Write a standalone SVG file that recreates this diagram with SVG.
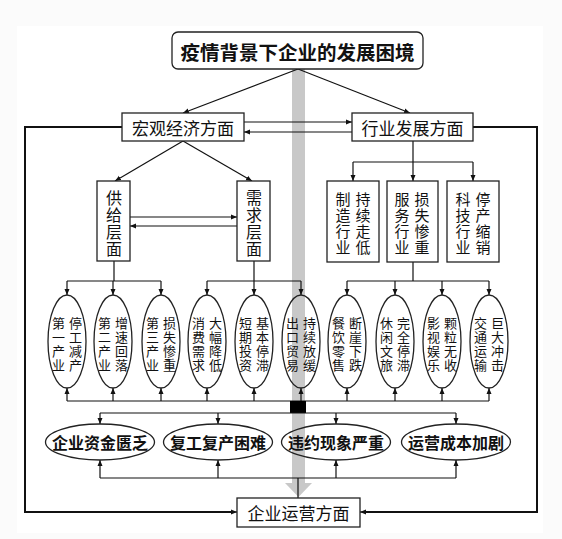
<svg xmlns="http://www.w3.org/2000/svg" width="562" height="539" viewBox="0 0 562 539">
<defs>
<marker id="ah" viewBox="0 0 6 6" refX="6" refY="3" markerWidth="6" markerHeight="6" markerUnits="userSpaceOnUse" orient="auto">
<path d="M0,0.5 L6,3 L0,5.5 Z" fill="#111"/>
</marker>
<style>
text{font-family:"Noto Sans CJK SC","Noto Sans",sans-serif;fill:#111;text-anchor:middle;dominant-baseline:central}
.box{fill:#fff;stroke:#222;stroke-width:1.3}
.ell{fill:none;stroke:#222;stroke-width:1.3}
.ln{fill:none;stroke:#111;stroke-width:1.2}
.ar{fill:none;stroke:#111;stroke-width:1.2;marker-end:url(#ah)}
.fr{fill:none;stroke:#111;stroke-width:2}
.t17{font-size:17px}
.t16{font-size:16px}
.t15{font-size:15px}
.t13{font-size:13px}
.b{font-weight:bold}
</style>
</defs>
<rect x="0" y="0" width="562" height="539" fill="#fbfbfb"/>
<rect x="17" y="26" width="526" height="507" fill="#fff"/>
<g id="gray-arrow">
<rect x="292" y="69" width="13" height="414" fill="#c8c8c8"/>
<polygon points="285,483 312,483 298.5,497" fill="#c8c8c8"/>
</g>
<g id="connectors">
<path class="ar" d="M298,69 L183,113"/>
<path class="ar" d="M298,69 L410,113"/>
<path class="ar" d="M244,122 L352,122"/>
<path class="ar" d="M352,132 L244,132"/>
<path class="ar" d="M183,141 L115,181"/>
<path class="ar" d="M183,141 L252,181"/>
<path class="ar" d="M130,217 L237,217"/>
<path class="ar" d="M237,226 L130,226"/>
<path class="ln" d="M413,141 V162 M353,162 H473"/>
<path class="ar" d="M353,162 V181"/>
<path class="ar" d="M413,162 V181"/>
<path class="ar" d="M473,162 V181"/>
<path class="ln" d="M114,261 V281 M67,281 H161 M254,261 V281 M207,281 H301 M413,262 V281 M347,281 H489"/>
<path class="ar" d="M67,281 V295"/><path class="ar" d="M113,281 V295"/><path class="ar" d="M161,281 V295"/>
<path class="ar" d="M207,281 V295"/><path class="ar" d="M254,281 V295"/><path class="ar" d="M301,281 V295"/>
<path class="ar" d="M347,281 V295"/><path class="ar" d="M395,281 V295"/><path class="ar" d="M442,281 V295"/><path class="ar" d="M489,281 V295"/>
<path class="ln" d="M67,401 H489"/>
<path class="ar" d="M67,401 V388"/><path class="ar" d="M113,401 V388"/><path class="ar" d="M161,401 V388"/>
<path class="ar" d="M207,401 V388"/><path class="ar" d="M254,401 V388"/><path class="ar" d="M301,401 V388"/>
<path class="ar" d="M347,401 V388"/><path class="ar" d="M395,401 V388"/><path class="ar" d="M442,401 V388"/><path class="ar" d="M489,401 V388"/>
<rect x="290" y="401" width="16" height="12" fill="#000"/>
<path class="ln" d="M100,413 H456"/>
<path class="ar" d="M100,413 V424"/><path class="ar" d="M218,413 V424"/><path class="ar" d="M336,413 V424"/><path class="ar" d="M456,413 V424"/>
<path class="ln" d="M100,478 H456 M298,478 V498"/>
<path class="ar" d="M100,478 V460"/><path class="ar" d="M218,478 V460"/><path class="ar" d="M336,478 V460"/><path class="ar" d="M456,478 V460"/>
<path class="fr" d="M122,127 H25 V512 H231"/>
<path class="ar" d="M229,512 H237"/>
<path class="fr" d="M473,127 H537 V512 H366"/>
<path class="ar" d="M368,512 H360"/>
</g>
<g id="title">
<rect class="box" x="172" y="32" width="251" height="37" rx="6"/>
<text class="b" x="297.5" y="51" font-size="19.5">疫情背景下企业的发展困境</text>
</g>
<g id="macro">
<rect class="box" x="122" y="113" width="122" height="28"/>
<text class="t17" x="183" y="127">宏观经济方面</text>
</g>
<g id="industry">
<rect class="box" x="352" y="113" width="121" height="28"/>
<text class="t17" x="412.5" y="127">行业发展方面</text>
</g>
<g id="supply">
<rect class="box" x="97" y="181" width="33" height="80"/>
<text class="t16"><tspan x="114" y="197">供</tspan><tspan x="114" y="214">给</tspan><tspan x="114" y="231">层</tspan><tspan x="114" y="248">面</tspan></text>
</g>
<g id="demand">
<rect class="box" x="237" y="181" width="33" height="80"/>
<text class="t16"><tspan x="254" y="197">需</tspan><tspan x="254" y="214">求</tspan><tspan x="254" y="231">层</tspan><tspan x="254" y="248">面</tspan></text>
</g>
<g id="manufacturing">
<rect class="box" x="327" y="181" width="52" height="81"/>
<text class="t15"><tspan x="343" y="198">制</tspan><tspan x="343" y="214">造</tspan><tspan x="343" y="230">行</tspan><tspan x="343" y="246">业</tspan></text>
<text class="t15"><tspan x="363" y="198">持</tspan><tspan x="363" y="214">续</tspan><tspan x="363" y="230">走</tspan><tspan x="363" y="246">低</tspan></text>
</g>
<g id="service">
<rect class="box" x="387" y="181" width="51" height="81"/>
<text class="t15"><tspan x="402" y="198">服</tspan><tspan x="402" y="214">务</tspan><tspan x="402" y="230">行</tspan><tspan x="402" y="246">业</tspan></text>
<text class="t15"><tspan x="422" y="198">损</tspan><tspan x="422" y="214">失</tspan><tspan x="422" y="230">惨</tspan><tspan x="422" y="246">重</tspan></text>
</g>
<g id="tech">
<rect class="box" x="447" y="181" width="52" height="81"/>
<text class="t15"><tspan x="463" y="198">科</tspan><tspan x="463" y="214">技</tspan><tspan x="463" y="230">行</tspan><tspan x="463" y="246">业</tspan></text>
<text class="t15"><tspan x="483" y="198">停</tspan><tspan x="483" y="214">产</tspan><tspan x="483" y="230">缩</tspan><tspan x="483" y="246">销</tspan></text>
</g>
<g id="e1"><ellipse class="ell" cx="67" cy="341.5" rx="19" ry="46.5"/>
<text class="t13"><tspan x="58.5" y="322">第</tspan><tspan x="58.5" y="336">一</tspan><tspan x="58.5" y="350">产</tspan><tspan x="58.5" y="364">业</tspan></text>
<text class="t13"><tspan x="75.5" y="322">停</tspan><tspan x="75.5" y="336">工</tspan><tspan x="75.5" y="350">减</tspan><tspan x="75.5" y="364">产</tspan></text></g>
<g id="e2"><ellipse class="ell" cx="113" cy="341.5" rx="19" ry="46.5"/>
<text class="t13"><tspan x="104.5" y="322">第</tspan><tspan x="104.5" y="336">二</tspan><tspan x="104.5" y="350">产</tspan><tspan x="104.5" y="364">业</tspan></text>
<text class="t13"><tspan x="121.5" y="322">增</tspan><tspan x="121.5" y="336">速</tspan><tspan x="121.5" y="350">回</tspan><tspan x="121.5" y="364">落</tspan></text></g>
<g id="e3"><ellipse class="ell" cx="161" cy="341.5" rx="19" ry="46.5"/>
<text class="t13"><tspan x="152.5" y="322">第</tspan><tspan x="152.5" y="336">三</tspan><tspan x="152.5" y="350">产</tspan><tspan x="152.5" y="364">业</tspan></text>
<text class="t13"><tspan x="169.5" y="322">损</tspan><tspan x="169.5" y="336">失</tspan><tspan x="169.5" y="350">惨</tspan><tspan x="169.5" y="364">重</tspan></text></g>
<g id="e4"><ellipse class="ell" cx="207" cy="341.5" rx="19" ry="46.5"/>
<text class="t13"><tspan x="198.5" y="322">消</tspan><tspan x="198.5" y="336">费</tspan><tspan x="198.5" y="350">需</tspan><tspan x="198.5" y="364">求</tspan></text>
<text class="t13"><tspan x="215.5" y="322">大</tspan><tspan x="215.5" y="336">幅</tspan><tspan x="215.5" y="350">降</tspan><tspan x="215.5" y="364">低</tspan></text></g>
<g id="e5"><ellipse class="ell" cx="254" cy="341.5" rx="19" ry="46.5"/>
<text class="t13"><tspan x="245.5" y="322">短</tspan><tspan x="245.5" y="336">期</tspan><tspan x="245.5" y="350">投</tspan><tspan x="245.5" y="364">资</tspan></text>
<text class="t13"><tspan x="262.5" y="322">基</tspan><tspan x="262.5" y="336">本</tspan><tspan x="262.5" y="350">停</tspan><tspan x="262.5" y="364">滞</tspan></text></g>
<g id="e6"><ellipse class="ell" cx="301" cy="341.5" rx="19" ry="46.5"/>
<text class="t13"><tspan x="292.5" y="322">出</tspan><tspan x="292.5" y="336">口</tspan><tspan x="292.5" y="350">贸</tspan><tspan x="292.5" y="364">易</tspan></text>
<text class="t13"><tspan x="309.5" y="322">持</tspan><tspan x="309.5" y="336">续</tspan><tspan x="309.5" y="350">放</tspan><tspan x="309.5" y="364">缓</tspan></text></g>
<g id="e7"><ellipse class="ell" cx="347" cy="341.5" rx="19" ry="46.5"/>
<text class="t13"><tspan x="338.5" y="322">餐</tspan><tspan x="338.5" y="336">饮</tspan><tspan x="338.5" y="350">零</tspan><tspan x="338.5" y="364">售</tspan></text>
<text class="t13"><tspan x="355.5" y="322">断</tspan><tspan x="355.5" y="336">崖</tspan><tspan x="355.5" y="350">下</tspan><tspan x="355.5" y="364">跌</tspan></text></g>
<g id="e8"><ellipse class="ell" cx="395" cy="341.5" rx="19" ry="46.5"/>
<text class="t13"><tspan x="386.5" y="322">休</tspan><tspan x="386.5" y="336">闲</tspan><tspan x="386.5" y="350">文</tspan><tspan x="386.5" y="364">旅</tspan></text>
<text class="t13"><tspan x="403.5" y="322">完</tspan><tspan x="403.5" y="336">全</tspan><tspan x="403.5" y="350">停</tspan><tspan x="403.5" y="364">滞</tspan></text></g>
<g id="e9"><ellipse class="ell" cx="442" cy="341.5" rx="19" ry="46.5"/>
<text class="t13"><tspan x="433.5" y="322">影</tspan><tspan x="433.5" y="336">视</tspan><tspan x="433.5" y="350">娱</tspan><tspan x="433.5" y="364">乐</tspan></text>
<text class="t13"><tspan x="450.5" y="322">颗</tspan><tspan x="450.5" y="336">粒</tspan><tspan x="450.5" y="350">无</tspan><tspan x="450.5" y="364">收</tspan></text></g>
<g id="e10"><ellipse class="ell" cx="489" cy="341.5" rx="19" ry="46.5"/>
<text class="t13"><tspan x="480.5" y="322">交</tspan><tspan x="480.5" y="336">通</tspan><tspan x="480.5" y="350">运</tspan><tspan x="480.5" y="364">输</tspan></text>
<text class="t13"><tspan x="497.5" y="322">巨</tspan><tspan x="497.5" y="336">大</tspan><tspan x="497.5" y="350">冲</tspan><tspan x="497.5" y="364">击</tspan></text></g>
<g id="b1"><ellipse class="ell" cx="100" cy="442" rx="54.5" ry="18"/><text class="t16 b" x="100" y="442">企业资金匮乏</text></g>
<g id="b2"><ellipse class="ell" cx="218" cy="442" rx="54.5" ry="18"/><text class="t16 b" x="218" y="442">复工复产困难</text></g>
<g id="b3"><ellipse class="ell" cx="336" cy="442" rx="54.5" ry="18"/><text class="t16 b" x="336" y="442">违约现象严重</text></g>
<g id="b4"><ellipse class="ell" cx="456" cy="442" rx="54.5" ry="18"/><text class="t16 b" x="456" y="442">运营成本加剧</text></g>
<g id="operation">
<rect class="box" x="237" y="498" width="123" height="29"/>
<text class="t17" x="298.5" y="512.5">企业运营方面</text>
</g>
</svg>
